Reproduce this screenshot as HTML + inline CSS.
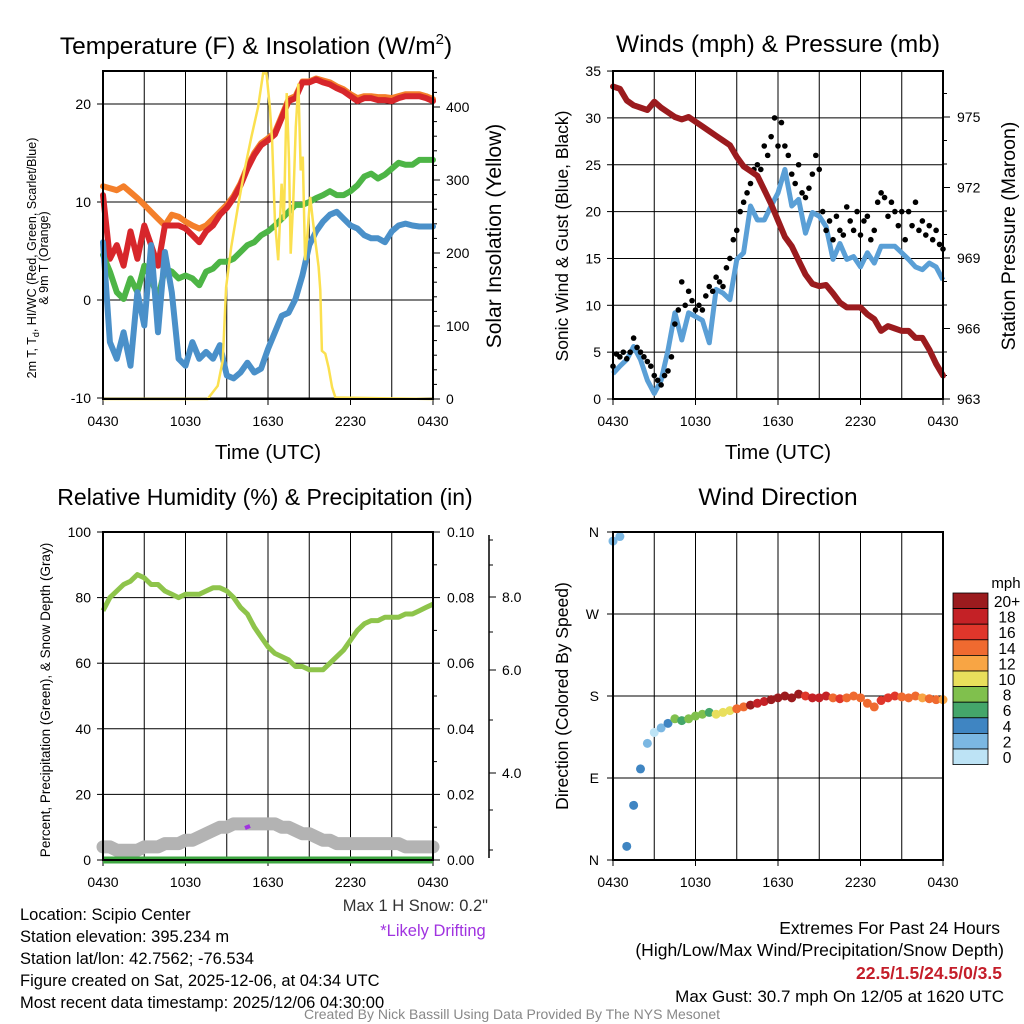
<!DOCTYPE html>
<html><head><meta charset="utf-8"><style>
html,body{margin:0;padding:0;background:#fff}
svg{display:block;font-family:"Liberation Sans",Arial,sans-serif}
</style></head><body>
<svg id="c" width="1024" height="1024" viewBox="0 0 1024 1024">
<rect width="1024" height="1024" fill="#fff"/>
</svg>
<script>
// ---- Data ----
const hours = []; for (let i=0;i<=48;i++) hours.push(i*0.5);
const xTickLabels = ["0430","1030","1630","2230","0430"];
const tempF = [10.7,4.2,5.6,3.5,7,4.2,7.6,5.6,3.5,7.6,7.6,7.6,7.3,6.6,5.9,7,7.6,8.7,9.4,10.4,11.7,13.4,14.8,15.8,16.3,16.9,18.6,20.3,20.6,22.2,22.2,22.5,22.2,22,21.6,21.3,20.8,20.3,20.6,20.6,20.4,20.4,20.3,20.6,20.8,20.8,20.8,20.6,20.3];
const temp9mF = [11.6,11.4,11.2,11.6,11,10.4,9.7,9,8.3,7.6,8.7,8.5,8,7.6,7.3,7.6,8.3,9,9.7,10.6,11.9,13.6,15,16,16.5,17.1,18.8,20.5,20.8,22.3,22.3,22.6,22.4,22.2,21.8,21.5,21,20.6,20.8,20.8,20.7,20.7,20.6,20.8,21,21,21,20.8,20.5];
const dewF = [4.6,2.9,0.8,0.1,2.2,0.8,3.5,2.2,0.1,3.2,2.9,2.2,2.5,2.2,1.5,2.9,3.2,3.9,3.9,4.2,4.9,5.6,5.9,6.6,7,7.6,8.3,9,9.7,9.7,10,10.4,10.7,11.1,10.7,10.7,11.1,11.7,12.6,12.9,12.4,12.8,13.4,14,13.8,13.8,14.3,14.3,14.3];
const windChillF = [5.9,-4.3,-6,-3.3,-6.7,0.8,-2.6,5.6,-3.3,4.9,0.8,-6,-6.7,-4.3,-6,-5.3,-6,-4.6,-7.7,-8,-7.4,-6.4,-7.4,-7,-5,-3.3,-1.6,-1.3,0.1,2.5,5.6,7,8,8.7,9,8.3,7.6,7.3,6.6,6.3,6.3,5.9,7,7.6,7.8,7.6,7.5,7.5,7.5];
const solarHours = [0,7.61,8.34,8.71,8.95,9.32,9.81,10.30,10.79,11.28,11.64,11.89,12.13,12.30,12.50,12.74,12.99,13.16,13.36,13.53,13.65,13.84,14.02,14.21,14.38,14.53,14.70,14.87,15.07,15.26,15.43,15.68,15.80,15.92,16.17,16.41,16.66,16.90,24];
const solarWm2 = [0,0,18,53,153,208,263,314,359,400,446,446,400,355,245,190,295,245,419,327,199,272,373,432,313,332,190,227,277,245,218,181,149,66,62,43,16,2,0];
const windMph = [2.7,3.5,4.2,5.6,4.2,2,0.6,2,5.2,9.2,6.3,9.2,8.8,8.4,6,11.7,11.3,10.6,14.9,15.6,20.6,19.1,19.1,20.6,22,24.5,20.6,21.3,17.7,19.9,19.5,18.4,14.9,16.6,14.9,15.2,14.1,15.6,14.5,16.3,16.3,16.3,15.6,14.9,14.1,13.8,14.5,14.1,12.7];
const gustMph = [3.5,4.8,4.5,5,4.3,5,6.5,5.5,5,4.5,4,3.5,2.5,2,1.5,2.5,3,4.5,8,9.5,12.5,10,11.5,10.5,9.5,10,9.5,11,12,11.5,13,12.5,12,14,15,17,18,20,21,22,23,24.5,25,24.5,27,26,28,30,27,29.5,27,26,24,23,25,22,21.5,22.5,24,26,24.5,20,18,19,17,19.5,18,17.5,20.5,19,18,20,17.5,19,19.5,17,18,21,22,21.5,19.5,21,20,18.5,20,17,20,18.5,21,18,19,17.5,18.5,17,18,16.5,16];
const pressureMb = [976.3,976.2,975.7,975.5,975.4,975.3,975.65,975.4,975.2,975,974.9,975,974.8,974.6,974.4,974.2,974,973.8,973.3,972.9,972.7,972.5,971.9,971.3,970.6,969.9,969.5,968.9,968.3,967.9,967.8,967.85,967.5,967.1,966.9,966.9,966.9,966.6,966.4,965.9,966.1,966,965.9,965.9,965.6,965.6,965.1,964.5,964];
const rhPct = [76,80,82,84,85,87,86,84,84,82,81,80,81,81,81,82,83,83,82,80,77,75,71,68,65,63,62,61,59,59,58,58,58,60,62,64,67,70,72,73,73,74,74,74,75,75,76,77,78];
const snowPlot = [4,4,3,3,3,3,4,4,4,5,5,5,6,6,7,8,9,10,10,11,11,11,11,11,11,11,10,10,9,8,8,7,6,6,5,5,5,5,5,5,5,5,5,5,4,4,4,4,4];
const precipIn = [0,0,0,0,0,0,0,0,0,0,0,0,0,0,0,0,0,0,0,0,0,0,0,0,0,0,0,0,0,0,0,0,0,0,0,0,0,0,0,0,0,0,0,0,0,0,0,0,0];
const windDirDeg = [350,355,15,60,100,128,140,145,150,155,153,155,158,160,162,160,162,164,166,168,170,172,174,176,178,180,178,182,180,178,178,180,178,177,178,180,178,172,168,175,178,180,179,178,180,178,177,176,176];
const cbLabels = ["20+","18","16","14","12","10","8","6","4","2","0"];
const cbColors = ["#9b1b1e","#c42126","#e0362b","#ef6a30","#f8a544","#e9df5c","#80c04d","#44a66a","#3f85c2","#7bb7e2","#bde3f5"];

// ---- helpers ----
const svg = document.getElementById('c');
const NS = 'http://www.w3.org/2000/svg';
function mk(tag, attrs, parent){ const e=document.createElementNS(NS,tag); for(const k in attrs) e.setAttribute(k,attrs[k]); (parent||svg).appendChild(e); return e; }
function txt(s,x,y,size,opts){ opts=opts||{}; const t=mk('text',{x:x,y:y,'font-size':size,fill:opts.fill||'#000','text-anchor':opts.anchor||'middle'}); if(opts.weight) t.setAttribute('font-weight',opts.weight); if(opts.rot) t.setAttribute('transform','rotate(-90 '+x+' '+y+')'); t.textContent=s; return t; }
function pathFrom(xs,ys){ let d=''; for(let i=0;i<xs.length;i++) d+=(i?'L':'M')+xs[i].toFixed(1)+' '+ys[i].toFixed(1); return d; }

function panelFrame(name){
  const g=mk('g',{});
  
  
  return g;
}
const TK=14;
function drawGridX(g,x0,y0,x1,y1,fx){
  for(let h=0;h<=24;h+=3){ const x=fx(h); mk('line',{x1:x,y1:y0,x2:x,y2:y1,stroke:'#000','stroke-width':1},g); }
  for(let k=0;k<5;k++){ const x=fx(k*6); const t=txt(xTickLabels[k],x,y1+27,TK);
     
    mk('line',{x1:x,y1:y1,x2:x,y2:y1+6,stroke:'#000'},g); }
}

// ===== Panel 1 =====
(function(){
  const X0=103,X1=433,Y0=71,Y1=399;
  const fx=h=>X0+h/24*(X1-X0);
  const fy=v=>300-v*9.8;
  const fs=v=>399-v*0.73;
  const g=panelFrame('temperature-panel');
  drawGridX(g,X0,Y0,X1,Y1,fx);
  [-10,0,10,20].forEach(v=>{ mk('line',{x1:X0,y1:fy(v),x2:X1,y2:fy(v),stroke:'#000'},g); mk('line',{x1:X0-6,y1:fy(v),x2:X0,y2:fy(v),stroke:'#000'},g); txt(String(v),X0-12,fy(v)+5,TK,{anchor:'end'}); });
  [0,100,200,300,400].forEach(v=>{ mk('line',{x1:X1,y1:fs(v),x2:X1+7,y2:fs(v),stroke:'#000'},g); txt(String(v),X1+13,fs(v)+5,TK,{anchor:'start'}); });
  for(let v=20;v<450;v+=20){ if(v%100) mk('line',{x1:X1,y1:fs(v),x2:X1+4,y2:fs(v),stroke:'#000'},g); }
  const xs=hours.map(fx);
  const s=[[temp9mF,'#f47f2a','orange-9m-temp-line'],[tempF,'#d7262b','red-temp-line'],[dewF,'#4db546','green-dewpoint-line'],[windChillF,'#4a90c9','blue-windchill-line']];
  s.forEach(a=>{ const p=mk('path',{d:pathFrom(xs,a[0].map(fy)),fill:'none',stroke:a[1],'stroke-width':6,'stroke-linejoin':'round','stroke-linecap':'round'},g);
      });
  const sp=mk('path',{d:pathFrom(solarHours.map(fx),solarWm2.map(fs)),fill:'none',stroke:'#fbe04f','stroke-width':2.5},g);
   
  mk('rect',{x:X0,y:Y0,width:X1-X0,height:Y1-Y0,fill:'none',stroke:'#000','stroke-width':2},g);
  const t=txt('Temperature (F) & Insolation (W/m',256,54,24.5); const sup=mk('tspan',{'font-size':15,dy:-10}); sup.textContent='2'; t.appendChild(sup); const cl=mk('tspan',{dy:10}); cl.textContent=')'; t.appendChild(cl);
   
  txt('Time (UTC)',268,459,20.5);
  const l1=txt('2m T, T',36,258,12.5,{rot:true}); const sub=mk('tspan',{'font-size':9,dy:3}); sub.textContent='d'; l1.appendChild(sub); const r=mk('tspan',{dy:-3}); r.textContent=', HI/WC (Red, Green, Scarlet/Blue)'; l1.appendChild(r);
  txt('& 9m T (Orange)',48,258,12.5,{rot:true});
  txt('Solar Insolation (Yellow)',501,236,21,{rot:true});
})();

// ===== Panel 2 =====
(function(){
  const X0=613,X1=943,Y0=71,Y1=399;
  const fx=h=>X0+h/24*(X1-X0);
  const fw=v=>399-v*9.37;
  const fp=v=>399-(v-963)*23.5;
  const g=panelFrame('winds-panel');
  drawGridX(g,X0,Y0,X1,Y1,fx);
  for(let v=0;v<=35;v+=5){ mk('line',{x1:X0,y1:fw(v),x2:X1,y2:fw(v),stroke:'#000'},g); mk('line',{x1:X0-6,y1:fw(v),x2:X0,y2:fw(v),stroke:'#000'},g); txt(String(v),X0-12,fw(v)+5,TK,{anchor:'end'}); }
  [963,966,969,972,975].forEach(v=>{ mk('line',{x1:X1,y1:fp(v),x2:X1+7,y2:fp(v),stroke:'#000'},g); txt(String(v),X1+14,fp(v)+5,TK,{anchor:'start'}); });
  for(let v=964;v<977;v++){ if((v-963)%3) mk('line',{x1:X1,y1:fp(v),x2:X1+4,y2:fp(v),stroke:'#000'},g); }
  const xs=hours.map(fx);
  const wl=mk('path',{d:pathFrom(xs,windMph.map(fw)),fill:'none',stroke:'#5a9fd6','stroke-width':5,'stroke-linejoin':'round'},g);
   
  gustMph.forEach((v,i)=>{ const c=mk('circle',{cx:fx(i*0.25),cy:fw(v),r:2.8,fill:'#000'},g);
      });
  const pl=mk('path',{d:pathFrom(xs,pressureMb.map(fp)),fill:'none',stroke:'#9b1b1e','stroke-width':6,'stroke-linejoin':'round','stroke-linecap':'round'},g);
   
  mk('rect',{x:X0,y:Y0,width:X1-X0,height:Y1-Y0,fill:'none',stroke:'#000','stroke-width':2},g);
  txt('Winds (mph) & Pressure (mb)',778,52,24.5);
  txt('Time (UTC)',778,459,20.5);
  txt('Sonic Wind & Gust (Blue, Black)',568,236,17.5,{rot:true});
  txt('Station Pressure (Maroon)',1015,236,19.5,{rot:true});
})();

// ===== Panel 3 =====
(function(){
  const X0=103,X1=433,Y0=532,Y1=860;
  const fx=h=>X0+h/24*(X1-X0);
  const fy=v=>860-v*3.28;
  const fpr=v=>860-v*3280;
  const g=panelFrame('humidity-panel');
  drawGridX(g,X0,Y0,X1,Y1,fx);
  for(let v=0;v<=100;v+=20){ mk('line',{x1:X0,y1:fy(v),x2:X1,y2:fy(v),stroke:'#000'},g); mk('line',{x1:X0-6,y1:fy(v),x2:X0,y2:fy(v),stroke:'#000'},g); txt(String(v),X0-12,fy(v)+5,TK,{anchor:'end'}); }
  ['0.00','0.02','0.04','0.06','0.08','0.10'].forEach((s,k)=>{ const y=fy(k*20); mk('line',{x1:X1,y1:y,x2:X1+7,y2:y,stroke:'#000'},g); txt(s,X1+14,y+5,TK,{anchor:'start'}); });
  for(let v=10;v<100;v+=20) mk('line',{x1:X1,y1:fy(v),x2:X1+4,y2:fy(v),stroke:'#000'},g);
  mk('line',{x1:489,y1:535,x2:489,y2:858,stroke:'#000','stroke-width':1.5},g);
  [[773,'4.0'],[670,'6.0'],[597,'8.0']].forEach(a=>{ mk('line',{x1:489,y1:a[0],x2:496,y2:a[0],stroke:'#000'},g); txt(a[1],502,a[0]+5,TK,{anchor:'start'}); });
  [850,810,720,632,565,540].forEach(y=>mk('line',{x1:489,y1:y,x2:493,y2:y,stroke:'#000'},g));
  const xs=hours.map(fx);
  const sn=mk('path',{d:pathFrom(xs,snowPlot.map(fy)),fill:'none',stroke:'#b3b3b3','stroke-width':13,'stroke-linejoin':'round','stroke-linecap':'round'},g);
   
  mk('path',{d:'M245 828 L250 826',stroke:'#a033e0','stroke-width':4,fill:'none'},g);
  const pr=mk('path',{d:pathFrom(xs,precipIn.map(fpr)),fill:'none',stroke:'#3ea641','stroke-width':7},g);
   
  const rh=mk('path',{d:pathFrom(xs,rhPct.map(fy)),fill:'none',stroke:'#8ec44b','stroke-width':5,'stroke-linejoin':'round'},g);
   
  mk('rect',{x:X0,y:Y0,width:X1-X0,height:Y1-Y0,fill:'none',stroke:'#000','stroke-width':2},g);
  txt('Relative Humidity (%) & Precipitation (in)',265,505,23);
  txt('Percent, Precipitation (Green), & Snow Depth (Gray)',50,700,13.5,{rot:true});
})();

// ===== Panel 4 =====
(function(){
  const X0=613,X1=943,Y0=532,Y1=860;
  const fx=h=>X0+h/24*(X1-X0);
  const fd=v=>860-v/360*328;
  const g=panelFrame('wind-direction-panel');
  drawGridX(g,X0,Y0,X1,Y1,fx);
  [['N',0],['E',90],['S',180],['W',270],['N',360]].forEach(a=>{ const y=fd(a[1]); mk('line',{x1:X0,y1:y,x2:X1,y2:y,stroke:'#000'},g); mk('line',{x1:X0-6,y1:y,x2:X0,y2:y,stroke:'#000'},g); txt(a[0],X0-14,y+5,TK,{anchor:'end'}); });
  windDirDeg.forEach((d,i)=>{ const bin=Math.min(10,Math.floor(windMph[i]/2)); const c=mk('circle',{cx:fx(hours[i]),cy:fd(d),r:4.5,fill:cbColors[10-bin]},g);
      });
  mk('rect',{x:X0,y:Y0,width:X1-X0,height:Y1-Y0,fill:'none',stroke:'#000','stroke-width':2},g);
  txt('Wind Direction',778,505,24.5);
  txt('Direction (Colored By Speed)',568,696,17.5,{rot:true});
  const cb=mk('g',{});
   
  txt('mph',1006,588,15);
  cbColors.forEach((c,i)=>{ mk('rect',{x:953,y:593+i*15.6,width:35,height:15.6,fill:c,stroke:'#000','stroke-width':0.8},cb); txt(cbLabels[i],1007,609+i*15.6-2,15.5); });
})();

// ===== Text =====
const info=["Location: Scipio Center","Station elevation: 395.234 m","Station lat/lon: 42.7562; -76.534","Figure created on Sat, 2025-12-06, at 04:34 UTC","Most recent data timestamp: 2025/12/06 04:30:00"];
info.forEach((s,i)=>{ const t=txt(s,20,920+i*22,16.5,{anchor:'start'});   });
txt('Max 1 H Snow: 0.2"',488,911,16.5,{anchor:'end',fill:'#333'});
txt('*Likely Drifting',433,936,16.5,{fill:'#a033e0'});
txt('Extremes For Past 24 Hours',1000,934,17.5,{anchor:'end'});
txt('(High/Low/Max Wind/Precipitation/Snow Depth)',1004,956,17.5,{anchor:'end'});
txt('22.5/1.5/24.5/0/3.5',1002,979,17.5,{anchor:'end',fill:'#c41e2a',weight:'bold'});
txt('Max Gust: 30.7 mph On 12/05 at 1620 UTC',1004,1002,17,{anchor:'end'});
txt('Created By Nick Bassill Using Data Provided By The NYS Mesonet',512,1019,14,{fill:'#888'});
</script>
</body></html>
